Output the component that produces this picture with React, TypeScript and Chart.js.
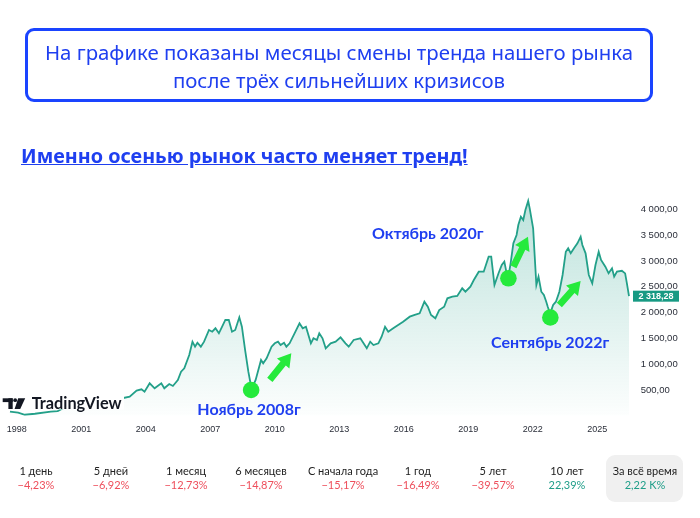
import React, { useEffect, useRef } from "react";
import { Chart, registerables } from "chart.js";

Chart.register(...registerables);

// ---- data (MOEX index) ----
const years = [
  1997.68, 1998.06, 1998.37, 1998.84, 1999.58, 1999.9, 2000.4, 2000.9, 2001.4, 2001.9, 2002.4, 2002.9,
  2003.25, 2003.57, 2003.8, 2003.94, 2004.18, 2004.41, 2004.72, 2004.86, 2005.09, 2005.26, 2005.49, 2005.64,
  2005.79, 2006.02, 2006.17, 2006.29, 2006.4, 2006.56, 2006.71, 2006.94, 2007.09, 2007.24, 2007.4, 2007.55,
  2007.7, 2007.86, 2008.01, 2008.16, 2008.35, 2008.47, 2008.62, 2008.77, 2008.92, 2009.11, 2009.36, 2009.46,
  2009.62, 2009.85, 2010.0, 2010.15, 2010.27, 2010.43, 2010.54, 2010.69, 2010.92, 2011.15, 2011.3, 2011.45,
  2011.68, 2011.8, 2011.96, 2012.07, 2012.22, 2012.37, 2012.6, 2012.83, 2013.06, 2013.29, 2013.44, 2013.67,
  2013.98, 2014.28, 2014.44, 2014.59, 2014.82, 2014.97, 2015.13, 2015.28, 2015.51, 2015.74, 2015.97, 2016.28,
  2016.51, 2016.74, 2016.96, 2017.12, 2017.27, 2017.47, 2017.65, 2017.88, 2018.03, 2018.26, 2018.49, 2018.72,
  2018.87, 2019.1, 2019.26, 2019.49, 2019.72, 2019.95, 2020.07, 2020.22, 2020.41, 2020.56, 2020.68, 2020.77,
  2020.87, 2020.97, 2021.1, 2021.25, 2021.33, 2021.45, 2021.56, 2021.66, 2021.79, 2021.86, 2021.94, 2022.02,
  2022.09, 2022.17, 2022.27, 2022.4, 2022.52, 2022.63, 2022.7, 2022.81, 2022.95, 2023.08, 2023.24, 2023.39,
  2023.54, 2023.65, 2023.77, 2023.92, 2024.08, 2024.23, 2024.31, 2024.46, 2024.61, 2024.77, 2024.92, 2025.07,
  2025.18, 2025.38, 2025.53, 2025.69, 2025.79, 2025.92, 2026.15, 2026.3, 2026.38, 2026.48,
];
const prices = [
  80, 60, 20, 40, 80, 90, 200, 170, 230, 260, 330, 340,
  370, 487, 513, 467, 630, 533, 630, 533, 616, 578, 694, 855,
  920, 1178, 1436, 1339, 1417, 1339, 1436, 1663, 1630, 1696, 1599, 1727,
  1857, 1857, 1630, 1663, 1909, 1727, 1275, 855, 520, 694, 1081, 1017,
  1114, 1339, 1405, 1436, 1372, 1417, 1339, 1405, 1599, 1793, 1696, 1727,
  1405, 1502, 1469, 1599, 1502, 1308, 1405, 1436, 1521, 1405, 1339, 1469,
  1502, 1308, 1436, 1372, 1405, 1533, 1727, 1630, 1696, 1760, 1824, 1921,
  1954, 1986, 2211, 2114, 1954, 1890, 2050, 2114, 2277, 2308, 2322, 2471,
  2405, 2502, 2632, 2793, 2793, 3083, 3083, 2535, 2762, 2922, 2987, 2800,
  2700, 2950, 3343, 3504, 3698, 3859, 3795, 3988, 4163, 4021, 3827, 3634,
  3116, 2535, 2696, 2405, 2341, 2211, 2114, 1980, 2150, 2211, 2405, 2729,
  3180, 3246, 3149, 3246, 3343, 3471, 3310, 3149, 2729, 2568, 2922, 3180,
  3020, 2890, 2762, 2858, 2696, 2793, 2810, 2760, 2570, 2318.28,
];
const xTickYears = [1998, 2001, 2004, 2007, 2010, 2013, 2016, 2019, 2022, 2025];
const yTickValues = [500, 1000, 1500, 2000, 2500, 3000, 3500, 4000];
const lastPrice = 2318.28;

// trend-change markers, arrows and captions (in data units)
const markerYears = [2008.9, 2020.87, 2022.82];
const markerPrices = [500, 2665, 1905];
const arrowFromYears = [2009.77, 2021.1, 2023.24];
const arrowFromPrices = [694, 2890, 2147];
const arrowToYears = [2010.77, 2021.78, 2024.23];
const arrowToPrices = [1211, 3471, 2612];
const noteTexts = ["Ноябрь 2008г", "Октябрь 2020г", "Сентябрь 2022г"];
const noteYears = [2008.8, 2017.12, 2022.81];
const notePrices = [122, 3523, 1411];

// performance row
const periodLabels = ["1 день", "5 дней", "1 месяц", "6 месяцев", "С начала года", "1 год", "5 лет", "10 лет", "За всё время"];
const periodChanges = [-4.23, -6.92, -12.73, -14.87, -15.17, -16.49, -39.57, 22.39, 2220];

// ---- layout / style constants ----
const W = 700;
const H = 518;
const statCenterX = [36, 111, 186, 261, 343, 418, 493, 567, 645];
const LINE = "#23a089";
const BLUE = "#1f3ff0";
const GREEN = "#25ea3c";
const RED = "#ee4f5c";
const TEAL = "#1f9e89";
const SANS = "Lato, 'Noto Sans', sans-serif";
const TITLE_FONT = "'Noto Sans', Lato, sans-serif";
const AXIS_FONT = "'Liberation Sans', Arial, sans-serif";

function fmtPrice(v: number): string {
  const [ip, dp] = v.toFixed(2).split(".");
  const grouped = ip.replace(/\B(?=(\d{3})+(?!\d))/g, " ");
  return grouped + "," + dp;
}
function fmtPct(v: number): string {
  const a = Math.abs(v);
  const s = a >= 1000 ? (a / 1000).toFixed(2).replace(".", ",") + " K%" : a.toFixed(2).replace(".", ",") + "%";
  return (v < 0 ? "\u2212" : "") + s;
}

function drawArrow(ctx: CanvasRenderingContext2D, x0: number, y0: number, x1: number, y1: number) {
  const dx = x1 - x0;
  const dy = y1 - y0;
  const len = Math.hypot(dx, dy);
  const ux = dx / len;
  const uy = dy / len;
  const nx = -uy;
  const ny = ux;
  const headLen = 13;
  const headW = 8;
  const shaftW = 3.4;
  const bx = x1 - ux * headLen;
  const by = y1 - uy * headLen;
  ctx.beginPath();
  ctx.moveTo(x0 + nx * shaftW, y0 + ny * shaftW);
  ctx.lineTo(bx + nx * shaftW, by + ny * shaftW);
  ctx.lineTo(bx + nx * headW, by + ny * headW);
  ctx.lineTo(x1, y1);
  ctx.lineTo(bx - nx * headW, by - ny * headW);
  ctx.lineTo(bx - nx * shaftW, by - ny * shaftW);
  ctx.lineTo(x0 - nx * shaftW, y0 - ny * shaftW);
  ctx.closePath();
  ctx.fill();
}

const overlayPlugin = {
  id: "overlay",
  afterDatasetsDraw(chart: any) {
    const { ctx, scales } = chart;
    const xs = scales.x;
    const ys = scales.y;
    ctx.save();

    // TradingView logo (with its own white backing)
    ctx.fillStyle = "#ffffff";
    ctx.fillRect(0, 393, 124, 16.5);
    ctx.fillStyle = "#131722";
    ctx.fillRect(2.7, 398.3, 10, 3.8);
    ctx.fillRect(8.4, 398.3, 4.3, 10.7);
    ctx.beginPath();
    ctx.arc(15.2, 400.2, 1.9, 0, Math.PI * 2);
    ctx.fill();
    ctx.beginPath();
    ctx.moveTo(18.2, 398.3);
    ctx.lineTo(25.2, 398.3);
    ctx.lineTo(20.2, 409);
    ctx.lineTo(14.6, 409);
    ctx.closePath();
    ctx.fill();
    ctx.font = "bold 15px " + SANS;
    const tw = ctx.measureText("TradingView").width;
    const fs = (15 * 90) / tw;
    ctx.font = "bold " + fs.toFixed(2) + "px " + SANS;
    ctx.textBaseline = "alphabetic";
    ctx.textAlign = "left";
    ctx.fillText("TradingView", 31.7, 409);

    // arrows
    ctx.fillStyle = GREEN;
    for (let i = 0; i < arrowFromYears.length; i++) {
      drawArrow(
        ctx,
        xs.getPixelForValue(arrowFromYears[i]),
        ys.getPixelForValue(arrowFromPrices[i]),
        xs.getPixelForValue(arrowToYears[i]),
        ys.getPixelForValue(arrowToPrices[i])
      );
    }

    // captions
    ctx.fillStyle = BLUE;
    ctx.font = "bold 16px " + SANS;
    ctx.textAlign = "center";
    ctx.textBaseline = "middle";
    for (let i = 0; i < noteTexts.length; i++) {
      ctx.fillText(noteTexts[i], xs.getPixelForValue(noteYears[i]), ys.getPixelForValue(notePrices[i]));
    }

    // last price tag
    const py = ys.getPixelForValue(lastPrice);
    ctx.fillStyle = "#179a83";
    ctx.fillRect(ys.left, py - 5.5, 46, 11);
    ctx.fillStyle = "#ffffff";
    ctx.font = "bold 9px " + AXIS_FONT;
    ctx.textAlign = "center";
    ctx.fillText(fmtPrice(lastPrice), ys.left + 23, py + 0.5);
    ctx.restore();
  },
};

export default function App() {
  const canvasRef = useRef<HTMLCanvasElement | null>(null);

  useEffect(() => {
    const canvas = canvasRef.current;
    if (!canvas) return;
    const chart = new Chart(canvas, {
      type: "line",
      data: {
        datasets: [
          {
            type: "scatter",
            data: markerYears.map((x, i) => ({ x, y: markerPrices[i] })),
            pointRadius: 8.3,
            pointHoverRadius: 8.3,
            pointBackgroundColor: GREEN,
            pointBorderWidth: 0,
            order: 0,
          } as any,
          {
            data: years.map((x, i) => ({ x, y: prices[i] })),
            borderColor: LINE,
            borderWidth: 1.8,
            pointRadius: 0,
            tension: 0,
            fill: "origin",
            order: 1,
            backgroundColor: (c: any) => {
              const { chart: ch } = c;
              const area = ch.chartArea;
              if (!area) return "rgba(35,160,137,0.15)";
              const g = ch.ctx.createLinearGradient(0, area.top, 0, area.bottom);
              g.addColorStop(0, "rgba(35,160,137,0.32)");
              g.addColorStop(1, "rgba(35,160,137,0.01)");
              return g;
            },
          },
        ],
      },
      options: {
        responsive: false,
        animation: false,
        maintainAspectRatio: false,
        layout: { padding: { top: 183.6, left: 0, right: 0, bottom: 0 } },
        plugins: { legend: { display: false }, tooltip: { enabled: false } },
        events: [],
        scales: {
          x: {
            type: "linear",
            min: 1997.602,
            max: 2026.666,
            grid: { display: false, drawTicks: false },
            border: { display: false },
            afterBuildTicks: (s: any) => {
              s.ticks = xTickYears.map((v) => ({ value: v }));
            },
            afterFit: (s: any) => {
              s.height = H - 415.8;
              s.paddingLeft = 0;
              s.paddingRight = 0;
            },
            ticks: {
              autoSkip: false,
              maxRotation: 0,
              padding: 8,
              color: "#2a2e39",
              font: { family: AXIS_FONT, size: 9 },
              callback: (v: any) => String(v),
            },
          },
          y: {
            position: "right",
            min: 0,
            max: 4500,
            grid: { display: false, drawTicks: false },
            border: { display: false },
            afterBuildTicks: (s: any) => {
              s.ticks = yTickValues.map((v) => ({ value: v }));
            },
            afterFit: (s: any) => {
              s.width = W - 633;
            },
            ticks: {
              padding: 7.7,
              color: "#2a2e39",
              font: { family: AXIS_FONT, size: 9.5 },
              callback: (v: any) => fmtPrice(Number(v)),
            },
          },
        },
      },
      plugins: [overlayPlugin],
    } as any);
    return () => chart.destroy();
  }, []);

  return (
    <div
      style={{
        position: "absolute",
        left: 0,
        top: 0,
        width: W,
        height: H,
        background: "#ffffff",
        overflow: "hidden",
        fontFamily: SANS,
      }}
    >
      <canvas ref={canvasRef} width={W} height={H} style={{ position: "absolute", left: 0, top: 0, width: W, height: H }} />

      <div
        style={{
          position: "absolute",
          left: 25,
          top: 28,
          width: 628,
          height: 74,
          boxSizing: "border-box",
          border: "3px solid #1a44ff",
          borderRadius: 9,
          color: BLUE,
          fontFamily: TITLE_FONT,
          fontSize: 20.4,
          textAlign: "center",
        }}
      >
        <div style={{ position: "absolute", left: 0, right: 0, top: 23.7 - 3 - 14, lineHeight: "28px", whiteSpace: "nowrap" }}>
          На графике показаны месяцы смены тренда нашего рынка
        </div>
        <div style={{ position: "absolute", left: 0, right: 0, top: 52 - 3 - 14, lineHeight: "28px", whiteSpace: "nowrap" }}>
          после трёх сильнейших кризисов
        </div>
      </div>

      <div
        style={{
          position: "absolute",
          left: 21,
          top: 142,
          lineHeight: "28px",
          fontFamily: TITLE_FONT,
          fontSize: 19.8,
          fontWeight: 700,
          color: BLUE,
          textDecoration: "underline",
          whiteSpace: "nowrap",
        }}
      >
        Именно осенью рынок часто меняет тренд!
      </div>

      <div
        style={{
          position: "absolute",
          left: 606,
          top: 455,
          width: 77,
          height: 47,
          borderRadius: 9,
          background: "#f0f0f0",
        }}
      />
      {periodLabels.map((lab, i) => (
        <div
          key={lab}
          style={{
            position: "absolute",
            left: statCenterX[i] - 45,
            width: 90,
            top: 464,
            textAlign: "center",
            fontSize: 11,
            lineHeight: "14px",
            whiteSpace: "nowrap",
          }}
        >
          <div style={{ color: "#222" }}>{lab}</div>
          <div style={{ color: periodChanges[i] < 0 ? RED : TEAL }}>{fmtPct(periodChanges[i])}</div>
        </div>
      ))}
    </div>
  );
}
